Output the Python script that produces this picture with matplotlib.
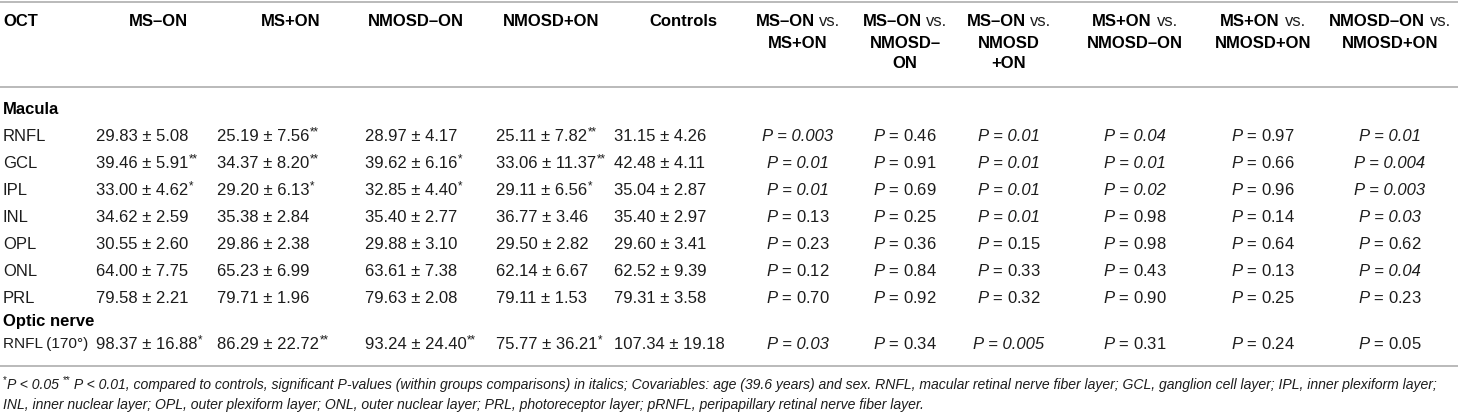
import matplotlib.pyplot as plt

plt.rcParams['font.family'] = ['Liberation Sans', 'DejaVu Sans']
plt.rcParams['mathtext.fontset'] = 'custom'
plt.rcParams['mathtext.rm'] = 'Liberation Sans'
plt.rcParams['mathtext.it'] = 'Liberation Sans:italic'

# table content
headers = ["OCT", "MS–ON", "MS+ON", "NMOSD–ON", "NMOSD+ON", "Controls",
           "MS–ON vs.\nMS+ON", "MS–ON vs.\nNMOSD–\nON", "MS–ON vs.\nNMOSD\n+ON",
           "MS+ON vs.\nNMOSD–ON", "MS+ON vs.\nNMOSD+ON", "NMOSD–ON vs.\nNMOSD+ON"]

sections = ["Macula", "Optic nerve"]
macula_layers = ["RNFL", "GCL", "IPL", "INL", "OPL", "ONL", "PRL"]
optic_layers = ["RNFL\u2009(170°)"]

# mean, sd, stars per group (macula rows then optic nerve row)
ms_off_mean = [29.83, 39.46, 33.00, 34.62, 30.55, 64.00, 79.58, 98.37]
ms_off_sd = [5.08, 5.91, 4.62, 2.59, 2.60, 7.75, 2.21, 16.88]
ms_off_star = ["", "**", "*", "", "", "", "", "*"]

ms_on_mean = [25.19, 34.37, 29.20, 35.38, 29.86, 65.23, 79.71, 86.29]
ms_on_sd = [7.56, 8.20, 6.13, 2.84, 2.38, 6.99, 1.96, 22.72]
ms_on_star = ["**", "**", "*", "", "", "", "", "**"]

nm_off_mean = [28.97, 39.62, 32.85, 35.40, 29.88, 63.61, 79.63, 93.24]
nm_off_sd = [4.17, 6.16, 4.40, 2.77, 3.10, 7.38, 2.08, 24.40]
nm_off_star = ["", "*", "*", "", "", "", "", "**"]

nm_on_mean = [25.11, 33.06, 29.11, 36.77, 29.50, 62.14, 79.11, 75.77]
nm_on_sd = [7.82, 11.37, 6.56, 3.46, 2.82, 6.67, 1.53, 36.21]
nm_on_star = ["**", "**", "*", "", "", "", "", "*"]

ctrl_mean = [31.15, 42.48, 35.04, 35.40, 29.60, 62.52, 79.31, 107.34]
ctrl_sd = [4.26, 4.11, 2.87, 2.97, 3.41, 9.39, 3.58, 19.18]
ctrl_star = [""] * 8

# p-values per comparison, significant ones in italics
p_msoff_mson = ["0.003", "0.01", "0.01", "0.13", "0.23", "0.12", "0.70", "0.03"]
p_msoff_nmoff = ["0.46", "0.91", "0.69", "0.25", "0.36", "0.84", "0.92", "0.34"]
p_msoff_nmon = ["0.01", "0.01", "0.01", "0.01", "0.15", "0.33", "0.32", "0.005"]
p_mson_nmoff = ["0.04", "0.01", "0.02", "0.98", "0.98", "0.43", "0.90", "0.31"]
p_mson_nmon = ["0.97", "0.66", "0.96", "0.14", "0.64", "0.13", "0.25", "0.24"]
p_nmoff_nmon = ["0.01", "0.004", "0.003", "0.03", "0.62", "0.04", "0.23", "0.05"]
p_limit = 0.05

footnote_1 = ["*", "P < 0.05 ", "**", " P < 0.01, compared to controls, significant P-values "
              "(within groups comparisons) in italics; Covariables: age (39.6 years) and sex. "
              "RNFL, macular retinal nerve fiber layer; GCL, ganglion cell layer; IPL, inner "
              "plexiform layer;"]
footnote_2 = ("INL, inner nuclear layer; OPL, outer plexiform layer; ONL, outer nuclear layer; "
              "PRL, photoreceptor layer; pRNFL, peripapillary retinal nerve fiber layer.")

groups = [(ms_off_mean, ms_off_sd, ms_off_star), (ms_on_mean, ms_on_sd, ms_on_star),
          (nm_off_mean, nm_off_sd, nm_off_star), (nm_on_mean, nm_on_sd, nm_on_star),
          (ctrl_mean, ctrl_sd, ctrl_star)]
pvals = [p_msoff_mson, p_msoff_nmoff, p_msoff_nmon, p_mson_nmoff, p_mson_nmon, p_nmoff_nmon]

# layout (pixels)
W, H = 1458, 415
fs = 12.0
fn_fs = 10.1
header_x = [3, 158, 291, 416, 551, 683, 798, 905, 1009, 1135, 1263, 1390]
header_y = [21, 43, 64]
group_x = [96, 217, 365, 496, 614]
line_c = "#b4b4b4"
ink = "#1c1c1c"

fig = plt.figure(figsize=(W / 100, H / 100), dpi=100)
ax = fig.add_axes([0, 0, 1, 1])
ax.set_xlim(0, W)
ax.set_ylim(H, 0)
ax.axis("off")
renderer = fig.canvas.get_renderer()


def width_px(s, size=fs, **kw):
    t = ax.text(0, 0, s, fontsize=size, **kw)
    w = t.get_window_extent(renderer).width
    t.remove()
    return w


def stars_after(t, stars, size):
    # small raised asterisks right after a text artist
    ax.annotate(stars, xy=(1, 1), xycoords=t, xytext=(0.3, 1.2), textcoords="offset points",
                ha="left", va="top", fontsize=size, color=ink)


# header: bold names, "vs." in regular weight
for j, (x, h) in enumerate(zip(header_x, headers)):
    for y, part in zip(header_y, h.split("\n")):
        if j == 0:
            ax.text(x, y, part, fontsize=fs, fontweight="bold", va="center")
            continue
        if part.endswith(" vs."):
            name = part[:-4]
            wb = width_px(name + " ", fontweight="bold")
            wr = width_px("vs.")
            x0 = x - (wb + wr) / 2
            ax.text(x0, y, name, fontsize=fs, fontweight="bold", va="center")
            ax.text(x0 + wb, y, "vs.", fontsize=fs, va="center", color=ink)
        else:
            ax.text(x, y, part, fontsize=fs, fontweight="bold", va="center", ha="center")

for y in [2, 87, 366]:
    ax.axhline(y, color=line_c, lw=1.3)

row_y = [136, 163, 190, 217, 244, 271, 298, 344]
labels = macula_layers + optic_layers
ax.text(3, 109, sections[0], fontsize=fs, fontweight="bold", va="center")
ax.text(3, 321, sections[1], fontsize=fs, fontweight="bold", va="center")

for i, (y, lab) in enumerate(zip(row_y, labels)):
    # the long optic nerve label is set a little tighter so it clears the first column
    ax.text(3, y, lab, fontsize=fs if len(lab) < 6 else fs * 0.92, va="center", color=ink)
    for x, (means, sds, stars) in zip(group_x, groups):
        t = ax.text(x, y, f"{means[i]:.2f} ± {sds[i]:.2f}", fontsize=fs, va="center", color=ink)
        if stars[i]:
            stars_after(t, stars[i], fs * 0.7)
    for x, col in zip(header_x[6:], pvals):
        p = col[i]
        if float(p) < p_limit:
            ax.text(x, y, f"P = {p}", fontsize=fs, va="center", ha="center", style="italic",
                    color=ink)
        else:
            ax.text(x, y, f"$P$ = {p}", fontsize=fs, va="center", ha="center", color=ink)

# footnote, first line with raised asterisks
x = 3
for part in footnote_1:
    if part.startswith("*"):
        ax.text(x, 380, part, fontsize=fn_fs * 0.7, va="center", color=ink)
        x += width_px(part, size=fn_fs * 0.7)
    else:
        ax.text(x, 385, part, fontsize=fn_fs, style="italic", va="center", color=ink)
        x += width_px(part, size=fn_fs, style="italic")
ax.text(3, 405, footnote_2, fontsize=fn_fs, style="italic", va="center", color=ink)

fig.savefig("out.png", dpi=100)
